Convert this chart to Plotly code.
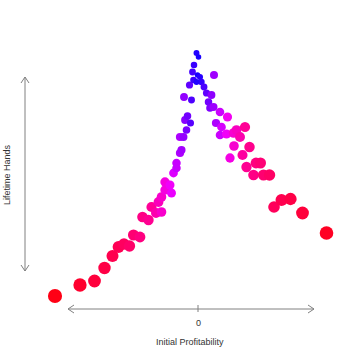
import plotly.graph_objects as go

# Initial Profitability (x) and Lifetime Hands (y)
profitability = [-2.86, -2.36, -2.07, -1.87, -1.71, -1.59, -1.48, -1.37, -1.29, -1.16,
                 -1.11, -0.99, -0.93, -0.84, -0.73, -0.79, -0.73, -0.66, -0.66, -0.56,
                 -0.53, -0.49, -0.43, -0.43, -0.36, -0.33, -0.36, -0.29, -0.23, -0.26,
                 -0.21, -0.15, -0.28, -0.13, -0.17, -0.09, -0.11, -0.08, -0.03, 0.01,
                 -0.01, 0.04, 0.07, -0.03, 0.12, 0.32, 0.17, 0.27, 0.21, 0.24,
                 0.31, 0.44, 0.59, 0.36, 0.47, 0.44, 0.57, 0.71, 0.77, 0.94,
                 0.84, 0.72, 0.64, 0.89, 1.03, 0.97, 1.11, 1.16, 1.25, 1.31,
                 1.43, 1.52, 1.67, 1.85, 2.09, 2.57]
lifetime_hands = [4, 15, 19, 32, 44, 53, 56, 54, 65, 63,
                  83, 80, 93, 87, 88, 98, 103, 110, 118, 115,
                  107, 127, 132, 137, 147, 150, 163, 163, 170, 180,
                  184, 177, 203, 200, 215, 220, 228, 235, 247, 243,
                  225, 223, 218, 218, 213, 225, 207, 205, 198, 192,
                  193, 188, 183, 177, 173, 165, 166, 167, 170, 173,
                  163, 154, 142, 145, 153, 133, 125, 137, 137, 125,
                  125, 93, 100, 101, 87, 67]

x_tick_vals = [0]
x_tick_text = ["0"]

dist = [abs(v) for v in profitability]
sizes = [5 + 5.4 * d ** 0.5 for d in dist]

fig = go.Figure()
fig.add_trace(go.Scatter(
    x=profitability, y=lifetime_hands, mode="markers",
    marker=dict(size=sizes, color=dist, cmin=0, cmax=2.86,
                colorscale=[[0, "#1400ff"], [0.1, "#9400ff"], [0.19, "#f000ff"],
                            [0.32, "#ff0099"], [0.55, "#ff0055"], [1, "#ff0015"]],
                line=dict(width=0), opacity=1),
    showlegend=False, hoverinfo="skip"))

gray = "#808080"
def px(xp):
    return xp / 360.0
def py(yp):
    return 1 - yp / 360.0

shapes = []
# x axis arrow
shapes.append(dict(type="line", xref="paper", yref="paper", x0=px(68), x1=px(314), y0=py(309), y1=py(309),
                   line=dict(color=gray, width=1)))
shapes.append(dict(type="path", xref="paper", yref="paper",
                   path=f"M {px(74)} {py(305)} L {px(68)} {py(309)} L {px(74)} {py(313)}",
                   line=dict(color=gray, width=1)))
shapes.append(dict(type="path", xref="paper", yref="paper",
                   path=f"M {px(308)} {py(305)} L {px(314)} {py(309)} L {px(308)} {py(313)}",
                   line=dict(color=gray, width=1)))
# y axis arrow
shapes.append(dict(type="line", xref="paper", yref="paper", x0=px(25), x1=px(25), y0=py(77), y1=py(271),
                   line=dict(color=gray, width=1)))
shapes.append(dict(type="path", xref="paper", yref="paper",
                   path=f"M {px(21)} {py(83)} L {px(25)} {py(77)} L {px(29)} {py(83)}",
                   line=dict(color=gray, width=1)))
shapes.append(dict(type="path", xref="paper", yref="paper",
                   path=f"M {px(21)} {py(265)} L {px(25)} {py(271)} L {px(29)} {py(265)}",
                   line=dict(color=gray, width=1)))
# tick at 0
for tv in x_tick_vals:
    shapes.append(dict(type="line", xref="x", yref="paper", x0=tv, x1=tv, y0=py(305), y1=py(312),
                       line=dict(color=gray, width=1)))

font = dict(size=9, color="#333333", family="Liberation Sans")
annotations = []
for tv, tt in zip(x_tick_vals, x_tick_text):
    annotations.append(dict(x=tv, y=py(323), xref="x", yref="paper", text=tt, showarrow=False,
                            xanchor="center", yanchor="middle", font=font))
annotations.append(dict(x=px(190), y=py(342), xref="paper", yref="paper", text="Initial Profitability",
                        showarrow=False, xanchor="center", yanchor="middle", font=font))
annotations.append(dict(x=px(7), y=py(175), xref="paper", yref="paper", text="Lifetime Hands",
                        textangle=-90, showarrow=False, xanchor="center", yanchor="middle", font=font))

fig.update_layout(
    width=360, height=360, margin=dict(l=0, r=0, t=0, b=0),
    paper_bgcolor="white", plot_bgcolor="white",
    xaxis=dict(range=[-3.96, 3.24], visible=False, fixedrange=True),
    yaxis=dict(range=[-60, 300], visible=False, fixedrange=True),
    shapes=shapes, annotations=annotations,
)
fig.write_html("out.html", config={"displayModeBar": False},
               post_script="document.body.style.margin='0';document.body.style.overflow='hidden';")
